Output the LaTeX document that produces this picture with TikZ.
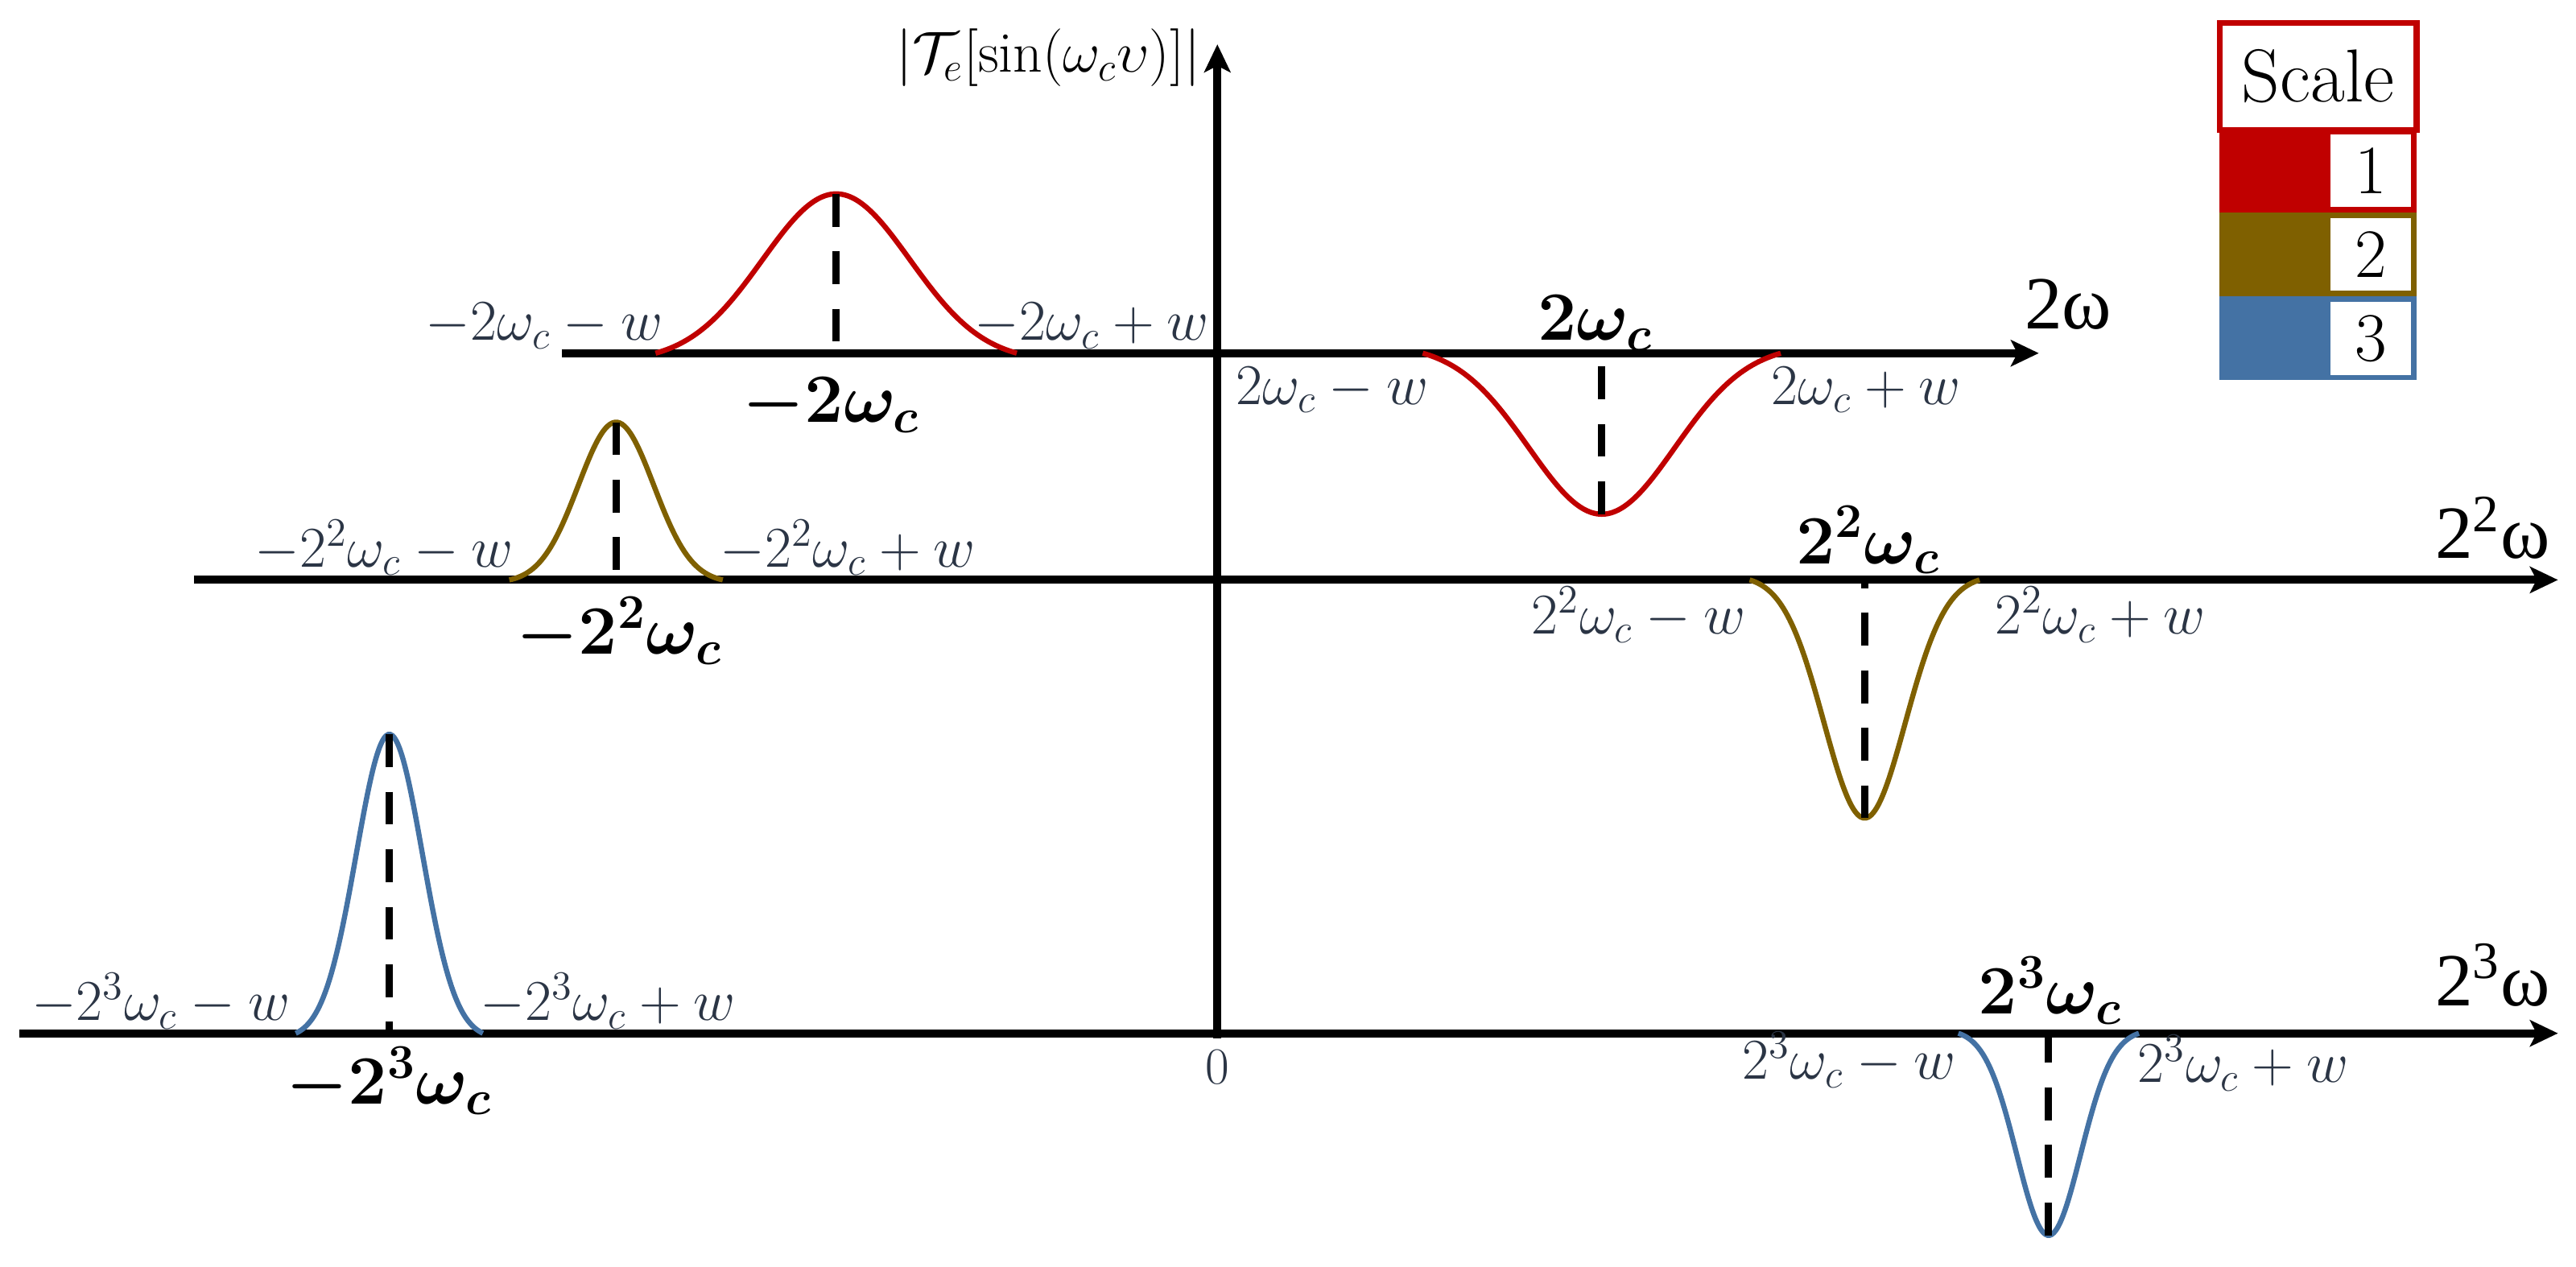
\RequirePackage{fix-cm}
\documentclass[tikz,border=0pt]{standalone}
\usepackage{amsmath}
\usepackage{fontspec}
\usepackage{bm}
\newfontfamily\gk{Liberation Serif}
\usetikzlibrary{arrows.meta}
\definecolor{cred}{HTML}{C00000}
\definecolor{cbrown}{HTML}{7F6000}
\definecolor{cblue}{HTML}{4472A4}
\definecolor{ctext}{HTML}{2B3545}
\tikzset{
  axisline/.style={line width=2.8pt, -{Stealth[length=0.34cm,width=0.32cm,inset=0.08cm]}},
  curve/.style={line width=1.8pt},
  midline/.style={line width=2.5pt, dash pattern=on 0.4cm off 0.3cm},
  lbl/.style={font=\fontsize{20}{24}\selectfont, text=ctext, inner sep=0pt},
  bld/.style={font=\fontsize{24}{28}\selectfont, inner sep=0pt},
  axl/.style={font=\fontsize{26}{30}\selectfont\gk, inner sep=0pt},
  legcell/.style={minimum width=2.4cm, minimum height=1.02cm, inner sep=0pt},
  legnum/.style={fill=white, line width=1pt, minimum width=1.02cm, minimum height=0.92cm, inner sep=0pt, font=\fontsize{24}{28}\selectfont}
}
% bump: color, center, half width, signed height (positive = up), axis y, name, sharpness
\newcommand{\mybump}[7]{%
  \draw[curve,#1] plot[domain=-1:1, samples=90, smooth] ({#2+#3*\x},{#5-#4*(exp(-#7*\x*\x)-exp(-#7))/(1-exp(-#7))});
  \coordinate (#6top) at (#2,{#5-#4});
  \coordinate (#6bot) at (#2,#5);
  \draw[midline] (#6top) -- (#6bot);
}
\begin{document}
\begin{tikzpicture}[x=0.02cm, y=-0.02cm]
\useasboundingbox (0,0) rectangle (1568,771);

% axes
\coordinate (ybot) at (741,632);
\coordinate (ytip) at (741,27);
\coordinate (a1s) at (342,215);
\coordinate (a1e) at (1241,215);
\coordinate (a2s) at (118,353);
\coordinate (a2e) at (1557,353);
\coordinate (a3s) at (12,629);
\coordinate (a3e) at (1557,629);
\draw[axisline] (ybot) -- (ytip);
\draw[axisline] (a1s) -- (a1e);
\draw[axisline] (a2s) -- (a2e);
\draw[axisline] (a3s) -- (a3e);

% bumps
\mybump{cred}{509}{110}{97}{215}{rA}{3}
\mybump{cred}{975}{109}{-98}{215}{rB}{3}
\mybump{cbrown}{375}{65}{96}{353}{bA}{4}
\mybump{cbrown}{1135}{70}{-145}{353}{bB}{4}
\mybump{cblue}{237}{57}{182}{629}{uA}{4}
\mybump{cblue}{1247}{55}{-123}{629}{uB}{4}

% y label and origin
\node[font=\fontsize{20}{24}\selectfont, inner sep=0pt, anchor=east] (ylab) at (731,35) {$|\mathcal{T}_e[\sin(\omega_c\upsilon)]|$};
\node[font=\fontsize{18}{22}\selectfont, text=ctext, inner sep=0pt, anchor=base] (zero) at (741,660) {$0$};

% scale 1 labels
\node[lbl, anchor=base east] (rl1) at (404,207) {$-2\omega_c-w$};
\node[lbl, anchor=base west] (rl2) at (593,207) {$-2\omega_c+w$};
\node[bld, anchor=base] (rl0) at (506,257) {$\bm{-2\omega_c}$};
\node[bld, anchor=base] (rr0) at (971,207) {$\bm{2\omega_c}$};
\node[lbl, anchor=base west] (rr1) at (752,246) {$2\omega_c-w$};
\node[lbl, anchor=base west] (rr2) at (1078,246) {$2\omega_c+w$};
\node[axl, anchor=base west] (ax1) at (1232,200) {2ω};

% scale 2 labels
\node[lbl, anchor=base east] (bl1) at (313,345) {$-2^2\omega_c-w$};
\node[lbl, anchor=base west] (bl2) at (438,345) {$-2^2\omega_c+w$};
\node[bld, anchor=base] (bl0) at (377,398) {$\bm{-2^2\omega_c}$};
\node[bld, anchor=base] (br0) at (1137,343) {$\bm{2^2\omega_c}$};
\node[lbl, anchor=base east] (br1) at (1063,386) {$2^2\omega_c-w$};
\node[lbl, anchor=base west] (br2) at (1214,386) {$2^2\omega_c+w$};
\node[axl, anchor=base west] (ax2) at (1482,340) {2\textsuperscript{2}ω};

% scale 3 labels
\node[lbl, anchor=base east] (ul1) at (177,621) {$-2^3\omega_c-w$};
\node[lbl, anchor=base west] (ul2) at (292,621) {$-2^3\omega_c+w$};
\node[bld, anchor=base] (ul0) at (237,672) {$\bm{-2^3\omega_c}$};
\node[bld, anchor=base] (ur0) at (1248,617) {$\bm{2^3\omega_c}$};
\node[lbl, anchor=base east] (ur1) at (1191,657) {$2^3\omega_c-w$};
\node[lbl, anchor=base west] (ur2) at (1301,659) {$2^3\omega_c+w$};
\node[axl, anchor=base west] (ax3) at (1482,612) {2\textsuperscript{3}ω};

% legend
\node[draw=cred, line width=2pt, fill=white, minimum width=2.4cm, minimum height=1.3cm, inner sep=0pt, font=\fontsize{26}{30}\selectfont] (scalebox) at (1411,46.5) {Scale};
\node[legcell, fill=cred] (c1) at (1411,104) {};
\node[legnum, draw=cred] (n1) at (1443,104) {1};
\node[legcell, fill=cbrown] (c2) at (1411,155) {};
\node[legnum, draw=cbrown] (n2) at (1443,155) {2};
\node[legcell, fill=cblue] (c3) at (1411,206) {};
\node[legnum, draw=cblue] (n3) at (1443,206) {3};
\end{tikzpicture}
\end{document}
